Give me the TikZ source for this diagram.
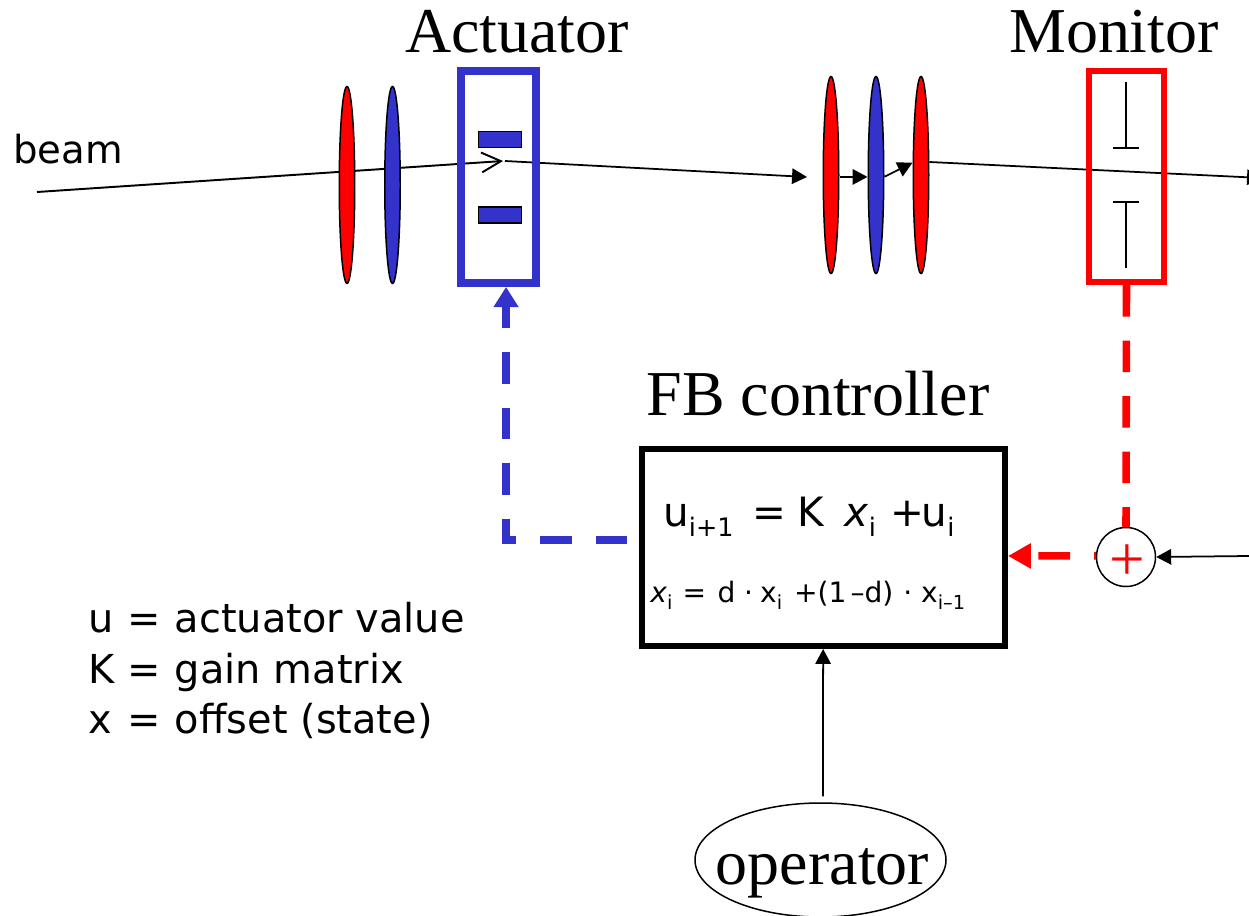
\documentclass[tikz,border=0pt]{standalone}
\usepackage{fontspec}
\setmainfont{Liberation Serif}
\setsansfont{DejaVu Sans}
\usetikzlibrary{shapes.geometric, arrows.meta, positioning, backgrounds}
\definecolor{blueC}{HTML}{3333CC}
\definecolor{redC}{HTML}{FF0000}
\newcommand{\lowA}[1]{\raisebox{-6.2pt}{\fontsize{14.5}{14.5}\selectfont #1}}
\newcommand{\lowB}[1]{\raisebox{-4.5pt}{\fontsize{11}{11}\selectfont #1}}
\newcommand{\legrow}[3]{\makebox[22.4pt][l]{#1}\makebox[26.9pt][l]{#2}#3}
\tikzset{
  lens/.style={ellipse, draw=black, line width=0.85pt, minimum width=15.5*0.02cm, minimum height=197*0.02cm, inner sep=0pt},
  lsRed/.style={lens, fill=redC},
  lsBlue/.style={lens, fill=blueC},
  bxBlue/.style={rectangle, draw=blueC, line width=4.5pt, minimum width=75*0.02cm, minimum height=212*0.02cm},
  bxRed/.style={rectangle, draw=redC, line width=3.4pt, minimum width=75*0.02cm, minimum height=211*0.02cm},
  plate/.style={rectangle, draw=black, fill=blueC, line width=0.85pt, minimum width=43*0.02cm, minimum height=16*0.02cm, inner sep=0pt},
  ctrl/.style={rectangle, draw=black, line width=3.4pt, minimum width=363*0.02cm, minimum height=197*0.02cm},
  title/.style={font=\fontsize{36.4}{40}\selectfont, inner sep=0pt},
  eqLg/.style={font=\sffamily\fontsize{23}{27}\selectfont, inner sep=0pt},
  eqSm/.style={font=\sffamily\fontsize{16}{19}\selectfont, inner sep=0pt},
  legrowS/.style={font=\sffamily\fontsize{22.7}{27}\selectfont, inner sep=0pt, anchor=base west},
  arw/.style={-{Triangle[length=8.5pt, width=8.8pt]}, line width=1pt},
  beamln/.style={line width=1.1pt},
  fbBlue/.style={-{Triangle[length=11.5pt, width=13.6pt]}, draw=blueC, line width=4.3pt, dash pattern=on 18pt off 13.6pt},
  fbRed/.style={-{Triangle[length=13pt, width=13.6pt]}, draw=redC, line width=4.3pt, dash pattern=on 18pt off 13.6pt}
}
\begin{document}
\begin{tikzpicture}[x=0.02cm, y=-0.02cm]
  \useasboundingbox (0,0) rectangle (1249,916);

  % ── Beamline ──
  \node[lsRed] (quadA) at (347,185) {};
  \node[lsBlue] (quadB) at (392.5,185) {};
  \node[lsRed] (quadC) at (831,175) {};
  \node[lsBlue] (quadD) at (876,175) {};
  \node[lsRed] (quadE) at (921,175) {};
  \node[bxBlue] (act) at (498.5,177) {};
  \node[bxRed] (mon) at (1126.5,176.5) {};
  \node[plate] (plateT) at (500,139.5) {};
  \node[plate] (plateB) at (500,215) {};
  \node[title] at (517,32) (actT) {Actuator};
  \node[title] at (1114,32) (monT) {Monitor};
  \node[eqLg, anchor=base west, font=\sffamily\fontsize{22}{27}\selectfont] at (13,163) (beamT) {beam};

  \coordinate (beamIn) at (37,192);
  \coordinate (beamKick) at (503,161);
  \coordinate (beamOut) at (505,161);
  \coordinate (beamStop) at (807,177);
  \coordinate (beamEnd) at (1262,178);

  \begin{pgfonlayer}{background}
    \draw[beamln, -{Straight Barb[length=11pt, width=11.3pt]}] (beamIn) -- (beamKick);
    \draw[arw] (beamOut) -- (beamStop);
    \draw[arw] ([yshift=-1.1pt]quadC.east) -- ([yshift=-1.1pt]quadD.west);
    \draw[arw] ([yshift=-1pt]quadD.east) -- ([yshift=7pt]quadE.west);
    \draw[arw] ([yshift=7.4pt]quadE.east) -- (beamEnd);
  \end{pgfonlayer}

  % ── Monitor pickups ──
  \coordinate (pickT) at (1126,82);
  \coordinate (pickB) at (1126,268);
  \draw[line width=1.1pt] (pickT) -- (1126,148) (1113,148) -- (1139,148);
  \draw[line width=1.1pt] (pickB) -- (1126,202) (1113,202) -- (1139,202);

  % ── Feedback loop ──
  \node[ctrl] (fb) at (823.5,547.5) {};
  \node[title] at (818,394) (fbT) {FB controller};
  \node[eqLg, anchor=base west] at (663,526) (eqU) {u\lowA{i+1}\hspace{10.9pt}=\hspace{6.4pt}K\hspace{11.5pt}\textit{x}\lowA{i}\hspace{8.5pt}+\hspace{-1.7pt}u\lowA{i}};
  \node[eqSm, anchor=base west] at (650,602) (eqX) {\textit{x}\lowB{i}\hspace{5.7pt}=\hspace{6.5pt}d\hspace{5pt}·\hspace{4pt}x\lowB{i}\hspace{6.8pt}+(1\hspace{2.3pt}–d)\hspace{5.7pt}·\hspace{5pt}x\lowB{i–1}};
  \node[circle, draw=black, line width=0.85pt, minimum size=59*0.02cm, inner sep=0pt] (sum) at (1126,557) {};
  \node[text=redC, font=\fontsize{36}{40}\selectfont, inner sep=0pt] (plus) at (1127,563) {+};
  \node[ellipse, draw=black, line width=0.85pt, minimum width=251*0.02cm, minimum height=114*0.02cm, inner sep=0pt] (op) at (820.5,860) {};
  \node[title] at (822.5,873) (opT) {operator};

  \coordinate (refIn) at (1249,556);
  \draw[fbBlue, dash phase=25pt] ([yshift=4.3pt]fb.west) -| ([xshift=4.3pt]act.south);
  \draw[fbRed, dash phase=17pt] ([yshift=0.6pt]sum.west) -- ([yshift=-4.8pt]fb.east);
  \draw[draw=redC, line width=4.3pt, dash pattern=on 18pt off 13.6pt] (mon.south) -- (sum.north);
  \draw[arw] (refIn) -- (sum.east);
  \draw[arw] ([xshift=1.4pt, yshift=3.4pt]op.north) -- ([xshift=-0.2pt]fb.south);

  % ── Legend ──
  \node[legrowS] at (88,632) (legU) {\legrow{u}{=}{actuator value}};
  \node[legrowS] at (88,683) (legK) {\legrow{K}{=}{gain matrix}};
  \node[legrowS] at (88,733) (legX) {\legrow{x}{=}{offset (state)}};
\end{tikzpicture}
\end{document}
